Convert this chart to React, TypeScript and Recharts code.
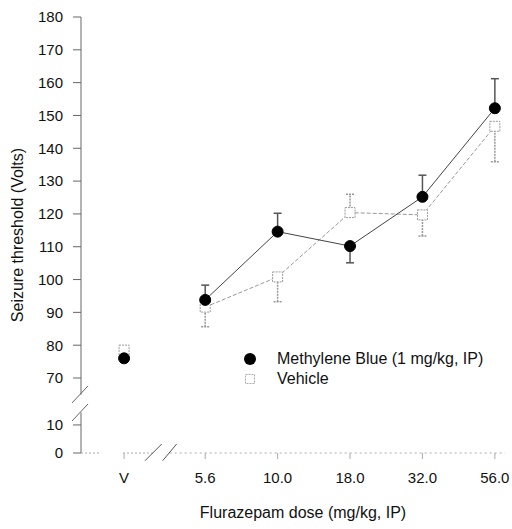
import React from 'react';
import { ComposedChart, Line, XAxis, YAxis, ErrorBar, ReferenceLine, Legend } from 'recharts';

// ---- data ----
const categories = ['V', '5.6', '10.0', '18.0', '32.0', '56.0'];
const methyleneBlue = [76, 93.8, 114.6, 110.2, 125.2, 152.2];
const methyleneBlueErrLow = [0, 0, 0, 5.1, 0, 0];
const methyleneBlueErrHigh = [0, 4.5, 5.6, 0, 6.6, 9];
const vehicle = [78.5, 91.6, 100.8, 120.4, 119.7, 146.7];
const vehicleErrLow = [0, 6, 7.6, 0, 6.4, 10.8];
const vehicleErrHigh = [0, 0, 0, 5.6, 0, 0];
const yTickValues = [0, 10, 70, 80, 90, 100, 110, 120, 130, 140, 150, 160, 170, 180];

// ---- axis break helpers ----
const V_GAP = 0.12; // extra space between V and first dose
const xPos = (i: number) => (i === 0 ? -V_GAP : i);
const X_MIN = -0.715;
const X_MAX = 5.14;
const BREAK_BASE = 47.15;
const BREAK_SCALE = 0.855;
const breakY = (v: number) => (v >= 70 ? v : BREAK_BASE + v * BREAK_SCALE);
const Y_MIN = breakY(0);
const Y_MAX = 180;

const FONT = '"Liberation Sans", Arial, Helvetica, sans-serif';

const data = categories.map((c, i) => ({
  x: xPos(i),
  mb: i === 0 ? null : breakY(methyleneBlue[i]),
  veh: i === 0 ? null : breakY(vehicle[i]),
  mbV: i === 0 ? breakY(methyleneBlue[i]) : null,
  vehV: i === 0 ? breakY(vehicle[i]) : null,
  mbErr: i === 0 ? undefined : [methyleneBlueErrLow[i], methyleneBlueErrHigh[i]],
  vehErr: i === 0 ? undefined : [vehicleErrLow[i], vehicleErrHigh[i]],
}));

const xTicks = categories.map((_, i) => xPos(i));
const yTicks = yTickValues.map(breakY);

const fmtX = (v: number) => {
  const i = xTicks.findIndex((t) => Math.abs(t - v) < 1e-6);
  return i >= 0 ? categories[i] : '';
};
const fmtY = (v: number) => {
  const i = yTicks.findIndex((t) => Math.abs(t - v) < 1e-6);
  return i >= 0 ? String(yTickValues[i]) : '';
};

const renderCircle = (props: any) => {
  const { cx, cy, index } = props;
  if (cx == null || cy == null || isNaN(cy)) return <g key={`c-${index}`} />;
  return <circle key={`c-${index}`} cx={cx} cy={cy} r={5.5} fill="#000" stroke="#000" />;
};
const renderSquare = (props: any) => {
  const { cx, cy, index } = props;
  if (cx == null || cy == null || isNaN(cy)) return <g key={`s-${index}`} />;
  return (
    <rect
      key={`s-${index}`}
      x={cx - 5}
      y={cy - 5}
      width={10}
      height={10}
      fill="#fff"
      stroke="#999"
      strokeDasharray="2 1"
    />
  );
};

const LegendContent = () => (
  <div style={{ fontFamily: FONT, fontSize: 16, color: '#111', lineHeight: '20px' }}>
    <div style={{ display: 'flex', alignItems: 'center', height: 20 }}>
      <svg width={14} height={14} style={{ marginRight: 20 }}>
        <circle cx={7} cy={7} r={6} fill="#000" />
      </svg>
      <span>Methylene Blue (1 mg/kg, IP)</span>
    </div>
    <div style={{ display: 'flex', alignItems: 'center', height: 20 }}>
      <svg width={14} height={14} style={{ marginRight: 20 }}>
        <rect x={2.5} y={2.5} width={9} height={9} fill="#fff" stroke="#aaa" strokeDasharray="2 1" />
      </svg>
      <span>Vehicle</span>
    </div>
  </div>
);

const axisStroke = '#666';
const xAxisStroke = '#aaa';

export default function App() {
  return (
    <div style={{ position: 'absolute', left: 0, top: 0, background: '#fff' }}>
      <ComposedChart
        width={512}
        height={529}
        data={data}
        margin={{ top: 17, right: 7, left: 8, bottom: 11 }}
      >
        <XAxis
          dataKey="x"
          type="number"
          domain={[X_MIN, X_MAX]}
          ticks={xTicks}
          tickFormatter={fmtX}
          interval={0}
          allowDataOverflow
          axisLine={false}
          tickLine={{ stroke: xAxisStroke }}
          tickSize={6}
          tickMargin={13}
          height={65}
          tick={{ fontSize: 15, fill: '#111', fontFamily: FONT }}
          label={{
            value: 'Flurazepam dose (mg/kg, IP)',
            position: 'insideBottom',
            offset: 0,
            dx: 10,
            style: { fontSize: 16, fill: '#111', fontFamily: FONT },
          }}
        />
        <YAxis
          type="number"
          domain={[Y_MIN, Y_MAX]}
          ticks={yTicks}
          tickFormatter={fmtY}
          interval={0}
          allowDataOverflow
          axisLine={false}
          tickLine={{ stroke: axisStroke }}
          tickSize={8}
          tickMargin={10}
          width={73}
          tick={{ fontSize: 15, fill: '#111', fontFamily: FONT }}
          label={{
            value: 'Seizure threshold (Volts)',
            angle: -90,
            position: 'insideLeft',
            offset: 9,
            style: { textAnchor: 'middle', fontSize: 16, fill: '#111', fontFamily: FONT },
          }}
        />

        {/* broken y axis */}
        <ReferenceLine ifOverflow="visible" stroke={axisStroke}
          segment={[{ x: X_MIN, y: Y_MAX }, { x: X_MIN, y: 64.9 }]} />
        <ReferenceLine ifOverflow="visible" stroke={axisStroke}
          segment={[{ x: X_MIN, y: 59.5 }, { x: X_MIN, y: Y_MIN }]} />
        <ReferenceLine ifOverflow="visible" stroke={axisStroke}
          segment={[{ x: -0.839, y: 62.4 }, { x: -0.618, y: 67.6 }]} />
        <ReferenceLine ifOverflow="visible" stroke={axisStroke}
          segment={[{ x: -0.839, y: 56.9 }, { x: -0.618, y: 62.1 }]} />

        {/* broken x axis (faint, dotted) */}
        <ReferenceLine ifOverflow="visible" stroke={xAxisStroke} strokeDasharray="2 2"
          segment={[{ x: X_MIN, y: Y_MIN }, { x: -0.439, y: Y_MIN }]} />
        <ReferenceLine ifOverflow="visible" stroke={xAxisStroke} strokeDasharray="2 2"
          segment={[{ x: -0.135, y: Y_MIN }, { x: 0.28, y: Y_MIN }]} />
        <ReferenceLine ifOverflow="visible" stroke={xAxisStroke} strokeDasharray="2 3"
          segment={[{ x: 0.51, y: Y_MIN }, { x: X_MAX, y: Y_MIN }]} />
        <ReferenceLine ifOverflow="visible" stroke="#555"
          segment={[{ x: 0.169, y: 44.8 }, { x: 0.4, y: 49.9 }]} />
        <ReferenceLine ifOverflow="visible" stroke="#555"
          segment={[{ x: 0.413, y: 44.8 }, { x: 0.606, y: 49.9 }]} />

        <Line
          dataKey="veh"
          stroke="#999"
          strokeWidth={1}
          strokeDasharray="4 2"
          dot={renderSquare}
          activeDot={false}
          isAnimationActive={false}
          legendType="none"
        >
          <ErrorBar dataKey="vehErr" direction="y" width={4} stroke="#999" strokeDasharray="2 1" />
        </Line>
        <Line
          dataKey="vehV"
          stroke="none"
          dot={renderSquare}
          activeDot={false}
          isAnimationActive={false}
          legendType="none"
        />
        <Line
          dataKey="mb"
          stroke="#444"
          strokeWidth={1}
          dot={renderCircle}
          activeDot={false}
          isAnimationActive={false}
          legendType="none"
        >
          <ErrorBar dataKey="mbErr" direction="y" width={4} stroke="#555" />
        </Line>
        <Line
          dataKey="mbV"
          stroke="none"
          dot={renderCircle}
          activeDot={false}
          isAnimationActive={false}
          legendType="none"
        />

        <Legend
          layout="vertical"
          verticalAlign="middle"
          align="center"
          content={LegendContent}
          wrapperStyle={{ position: 'absolute', left: 243, top: 349, width: 268 }}
        />
      </ComposedChart>
    </div>
  );
}
